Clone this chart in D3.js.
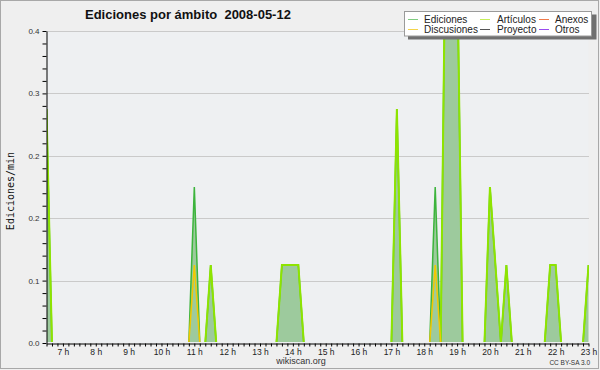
<!DOCTYPE html>
<html><head><meta charset="utf-8">
<script src="https://cdn.jsdelivr.net/npm/d3@7"></script>
<style>body{margin:0;background:#efefef}svg{display:block}text{white-space:pre}</style>
</head><body><svg id="c" width="600" height="370"></svg>
<script>
const title = "Ediciones por ámbito  2008-05-12";
const yAxisTitle = "Ediciones/min";
const footer = "wikiscan.org";
const license = "CC BY-SA 3.0";
const times = ["06:30","06:40","10:50","11:00","11:10","11:20","11:30","11:40","13:30","13:40","13:50","14:00","14:10","14:20","17:00","17:10","17:20","18:10","18:20","18:30","18:40","18:50","19:00","19:10","19:50","20:00","20:10","20:20","20:30","20:40","21:40","21:50","22:00","22:10","22:50","23:00"];
const ediciones   = [0.3,0,0,0.2,0,0,0.1,0,0,0.1,0.1,0.1,0.1,0,0,0.3,0,0,0.2,0,0.6,0.6,0.5,0,0,0.2,0.1,0,0.1,0,0,0.1,0.1,0,0,0.1];
const articulos   = [0.3,0,0,0,0,0,0.1,0,0,0.1,0.1,0.1,0.1,0,0,0.3,0,0,0,0,0.6,0.6,0.5,0,0,0.2,0.1,0,0.1,0,0,0.1,0.1,0,0,0.1];
const discusiones = [0,0,0,0.1,0,0,0,0,0,0,0,0,0,0,0,0,0,0,0.1,0,0,0,0,0,0,0,0,0,0,0,0,0,0,0,0,0];
const yTickValues = [0, 0.08, 0.16, 0.24, 0.32, 0.4];
const yTickLabels = ["0.0","0.1","0.2","0.2","0.3","0.4"];
const xDomainHours = [6.5, 23];
const legendNames  = ["Ediciones","Discusiones","Artículos","Proyecto","Anexos","Otros"];
const legendColors = ["#80cc80","#f4d44a","#c6ee5a","#555555","#ef7a4a","#9a4cef"];

const svg = d3.select("#c");
const toH = s => { const [h,m] = s.split(":").map(Number); return h + m/60; };
const x = d3.scaleLinear().domain(xDomainHours).range([46.5, 588.5]);
const y = d3.scaleLinear().domain([0, 0.4]).range([343, 31]);

// border
svg.append("rect").attr("x",0.5).attr("y",0.5).attr("width",598).attr("height",368)
  .attr("fill","#efefef").attr("stroke","#a8a8a8");
// plot bg
svg.append("rect").attr("x",46.5).attr("y",31).attr("width",542).attr("height",312).attr("fill","#eef0f2");

// grid
svg.append("g").selectAll("line").data(yTickValues.filter(v=>v>0)).join("line")
  .attr("x1",47).attr("x2",589).attr("y1",d=>Math.round(y(d))+0.5).attr("y2",d=>Math.round(y(d))+0.5)
  .attr("stroke","#cacaca").attr("stroke-width",1);

svg.append("clipPath").attr("id","pc").append("rect")
  .attr("x",47).attr("y",31).attr("width",542).attr("height",311);

const pts = arr => times.map((t,i)=>[toH(t), arr[i]]);
const g = svg.append("g").attr("clip-path","url(#pc)");
g.append("path").datum(pts(ediciones))
  .attr("d", d3.area().x(d=>x(d[0])).y0(y(0)).y1(d=>y(d[1])))
  .attr("fill","#9dca9d");
const line = d3.line().x(d=>x(d[0])).y(d=>y(d[1]));
g.append("path").datum(pts(ediciones)).attr("d",line).attr("fill","none")
  .attr("stroke","#3cb43c").attr("stroke-width",1.5);
g.append("path").datum(pts(articulos)).attr("d",line).attr("fill","none")
  .attr("stroke","#8ee400").attr("stroke-width",2);
g.append("path").datum(pts(discusiones)).attr("d",line).attr("fill","none")
  .attr("stroke","#f2c800").attr("stroke-width",1.5);

// x axis
const xTicks = d3.range(390, 1381, 10).map(m=>m/60);
const xa = svg.append("g").attr("transform","translate(0,343.5)")
  .call(d3.axisBottom(x).tickValues(xTicks).tickSize(3).tickSizeOuter(0).tickPadding(2)
    .tickFormat(d=>{ const r=Math.round(d*60); return r%60===0 ? (r/60)+" h" : ""; }));
xa.selectAll("text").attr("font-family","Liberation Sans, Arial, sans-serif").attr("font-size",8.5).attr("fill","#222");
xa.selectAll("line,path").attr("stroke","#000");

// y axis
const yMinor = d3.range(0, 26).map(i=>i*0.016);
const ya = svg.append("g").attr("transform","translate(46.5,0)")
  .call(d3.axisLeft(y).tickValues(yMinor).tickSize(4).tickSizeOuter(0).tickPadding(3)
    .tickFormat((d,i)=> i%5===0 ? yTickLabels[i/5] : ""));
ya.selectAll("text").attr("font-family","Liberation Sans, Arial, sans-serif").attr("font-size",8).attr("fill","#333");
ya.selectAll("line,path").attr("stroke","#000");

// titles
svg.append("text").attr("x",85).attr("y",18.5).attr("xml:space","preserve").text(title)
  .attr("font-family","Liberation Sans, Arial, sans-serif").attr("font-weight","bold").attr("font-size",13).attr("fill","#111");
svg.append("text").attr("transform","translate(14,191) rotate(-90)").attr("text-anchor","middle")
  .text(yAxisTitle).attr("font-family","DejaVu Sans Mono, monospace").attr("font-size",10).attr("fill","#111");
svg.append("text").attr("x",301).attr("y",364).attr("text-anchor","middle").text(footer)
  .attr("font-family","Liberation Sans, Arial, sans-serif").attr("font-size",9).attr("fill","#333");
svg.append("text").attr("x",590).attr("y",365).attr("text-anchor","end").text(license)
  .attr("font-family","Liberation Sans, Arial, sans-serif").attr("font-size",6.5).attr("fill","#333");

// legend
const lg = svg.append("g");
lg.append("rect").attr("x",408).attr("y",14.5).attr("width",188.5).attr("height",25).attr("fill","#707070");
lg.append("rect").attr("x",404.5).attr("y",11.5).attr("width",187).attr("height",24.5).attr("fill","#fff").attr("stroke","#9a9a9a");
const colLine = [408, 480, 539], colText = [424, 497, 555];
legendNames.forEach((n,i)=>{
  const c = Math.floor(i/2), r = i%2;
  const ly = 19.5 + r*10;
  lg.append("line").attr("x1",colLine[c]).attr("x2",colLine[c]+10).attr("y1",ly).attr("y2",ly)
    .attr("stroke",legendColors[i]).attr("stroke-width",1);
  lg.append("text").attr("x",colText[c]).attr("y",ly+3.3).text(n)
    .attr("font-family","Liberation Sans, Arial, sans-serif").attr("font-size",10).attr("fill","#222");
});
</script></body></html>
